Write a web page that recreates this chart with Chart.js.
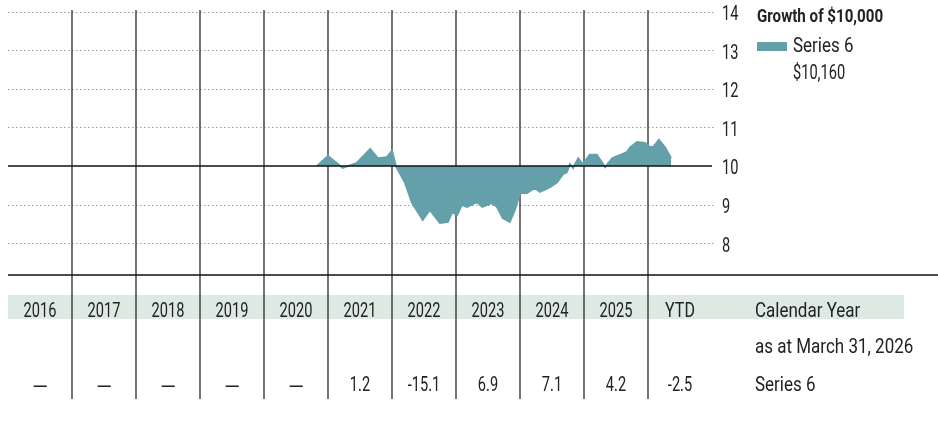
<!DOCTYPE html>
<html>
<head>
<meta charset="utf-8">
<script src="https://cdn.jsdelivr.net/npm/chart.js@4/dist/chart.umd.min.js"></script>
<style>
  html, body { margin: 0; padding: 0; background: #fff; }
  #wrap { width: 938px; height: 431px; position: relative; }
</style>
</head>
<body>
<div id="wrap"><canvas id="canvas" width="938" height="431"></canvas></div>
<script>
var canvas = document.getElementById('canvas');
var ctx = canvas.getContext('2d');

// growth of $10,000 (in thousands), by decimal year
var dates = [2020.83, 2021.0, 2021.23, 2021.45, 2021.66, 2021.78, 2021.92, 2022.0, 2022.06, 2022.2,
  2022.31, 2022.48, 2022.59, 2022.75, 2022.875, 2022.94, 2023.02, 2023.09, 2023.17, 2023.33,
  2023.41, 2023.56, 2023.64, 2023.73, 2023.84, 2023.92, 2024.0, 2024.11, 2024.23, 2024.31,
  2024.47, 2024.58, 2024.67, 2024.73, 2024.78, 2024.83, 2024.91, 2024.98, 2025.09, 2025.2,
  2025.33, 2025.44, 2025.67, 2025.72, 2025.83, 2025.95, 2026.03, 2026.08, 2026.17, 2026.27, 2026.36];
var values = [10.0, 10.26, 9.95, 10.08, 10.44, 10.2, 10.23, 10.39, 10.0, 9.58,
  9.06, 8.6, 8.86, 8.52, 8.55, 8.8, 8.73, 8.99, 8.94, 9.06,
  8.94, 9.04, 8.94, 8.65, 8.55, 8.86, 9.3, 9.3, 9.43, 9.33,
  9.45, 9.58, 9.79, 9.84, 10.05, 9.95, 10.2, 10.05, 10.29, 10.29,
  9.97, 10.2, 10.36, 10.48, 10.62, 10.6, 10.49, 10.49, 10.68, 10.47, 10.2];

// calendar table
var years = ['2016', '2017', '2018', '2019', '2020', '2021', '2022', '2023', '2024', '2025', 'YTD'];
var returns = [null, null, null, null, null, 1.2, -15.1, 6.9, 7.1, 4.2, -2.5];
var yTicks = [8, 9, 10, 11, 12, 13, 14];

var seriesName = 'Series 6';
var endValue = '$10,160';
var teal = '#63a0aa';
var font = 'Roboto, "DejaVu Sans", sans-serif';

// condensed look: numbers squeeze harder than words
function txt(c, s, x, y, align, sx) {
  c.save();
  c.translate(x, y);
  c.scale(sx || 0.85, 1);
  c.textAlign = align || 'left';
  c.fillText(s, 0, 0);
  c.restore();
}
var NUM = 0.73;

var points = [];
for (var i = 0; i < dates.length; i++) {
  points.push({ x: dates[i], y: values[i] });
}

var decor = {
  id: 'decor',
  beforeDatasetsDraw: function (chart) {
    var c = chart.ctx;
    var xs = chart.scales.x;
    var ys = chart.scales.y;
    var a = chart.chartArea;
    c.save();
    // dotted horizontal grid
    c.strokeStyle = '#9a9a9a';
    c.lineWidth = 1;
    c.setLineDash([1.5, 2.5]);
    yTicks.forEach(function (t) {
      if (t === 10) return;
      var y = Math.round(ys.getPixelForValue(t)) + 0.5;
      c.beginPath();
      c.moveTo(a.left, y);
      c.lineTo(a.right + 4, y);
      c.stroke();
    });
    c.setLineDash([]);
    // calendar band
    c.fillStyle = '#dde9e3';
    c.fillRect(a.left, 295, 904 - a.left, 24);
    // vertical year separators
    c.strokeStyle = '#3a3a3a';
    c.lineWidth = 1.4;
    for (var k = 1; k < years.length; k++) {
      var x = xs.getPixelForValue(2016 + k);
      c.beginPath();
      c.moveTo(x, a.top);
      c.lineTo(x, 399);
      c.stroke();
    }
    c.restore();
  },
  afterDatasetsDraw: function (chart) {
    var c = chart.ctx;
    var xs = chart.scales.x;
    var ys = chart.scales.y;
    var a = chart.chartArea;
    c.save();
    // baseline at 10 and bottom rule
    c.strokeStyle = '#111';
    c.lineWidth = 1.5;
    var y10 = ys.getPixelForValue(10);
    c.beginPath();
    c.moveTo(a.left, y10);
    c.lineTo(a.right, y10);
    c.stroke();
    c.beginPath();
    c.moveTo(a.left, a.bottom);
    c.lineTo(938, a.bottom);
    c.stroke();

    c.fillStyle = '#222';
    c.textBaseline = 'alphabetic';
    c.font = '20px ' + font;
    // right tick labels
    yTicks.forEach(function (t) {
      txt(c, String(t), a.right + 10, ys.getPixelForValue(t) + 8.5, 'left', NUM);
    });

    // legend
    c.font = 'bold 18px ' + font;
    txt(c, 'Growth of $10,000', 757, 22, 'left', 0.84);
    c.fillStyle = teal;
    c.fillRect(757, 42, 30, 9);
    c.fillStyle = '#222';
    c.font = '20px ' + font;
    txt(c, seriesName, 793, 52);
    txt(c, endValue, 793, 79, 'left', NUM);

    // table
    for (var i = 0; i < years.length; i++) {
      var cx = xs.getPixelForValue(2016 + i + 0.5);
      txt(c, years[i], cx, 317, 'center', years[i] === 'YTD' ? 0.8 : NUM);
      var r = returns[i];
      if (r === null) {
        txt(c, '\u2014', cx, 394, 'center', 1.0);
      } else {
        txt(c, r.toFixed(1), cx, 391, 'center', NUM);
      }
    }
    txt(c, 'Calendar Year', 755, 317);
    txt(c, 'as at March 31, 2026', 755, 353);
    txt(c, seriesName, 755, 391);
    c.restore();
  }
};

new Chart(ctx, {
  type: 'line',
  data: {
    datasets: [{
      label: seriesName,
      data: points,
      borderColor: teal,
      backgroundColor: teal,
      borderWidth: 2,
      pointRadius: 0,
      tension: 0,
      fill: { value: 10 }
    }]
  },
  options: {
    responsive: false,
    animation: false,
    layout: { padding: { left: 8, right: 226, top: 10, bottom: 156 } },
    scales: {
      x: { type: 'linear', min: 2016, max: 2027, display: false },
      y: { min: 7.17, max: 14.05, display: false }
    },
    plugins: {
      legend: { display: false },
      tooltip: { enabled: false }
    }
  },
  plugins: [decor]
});
</script>
</body>
</html>
